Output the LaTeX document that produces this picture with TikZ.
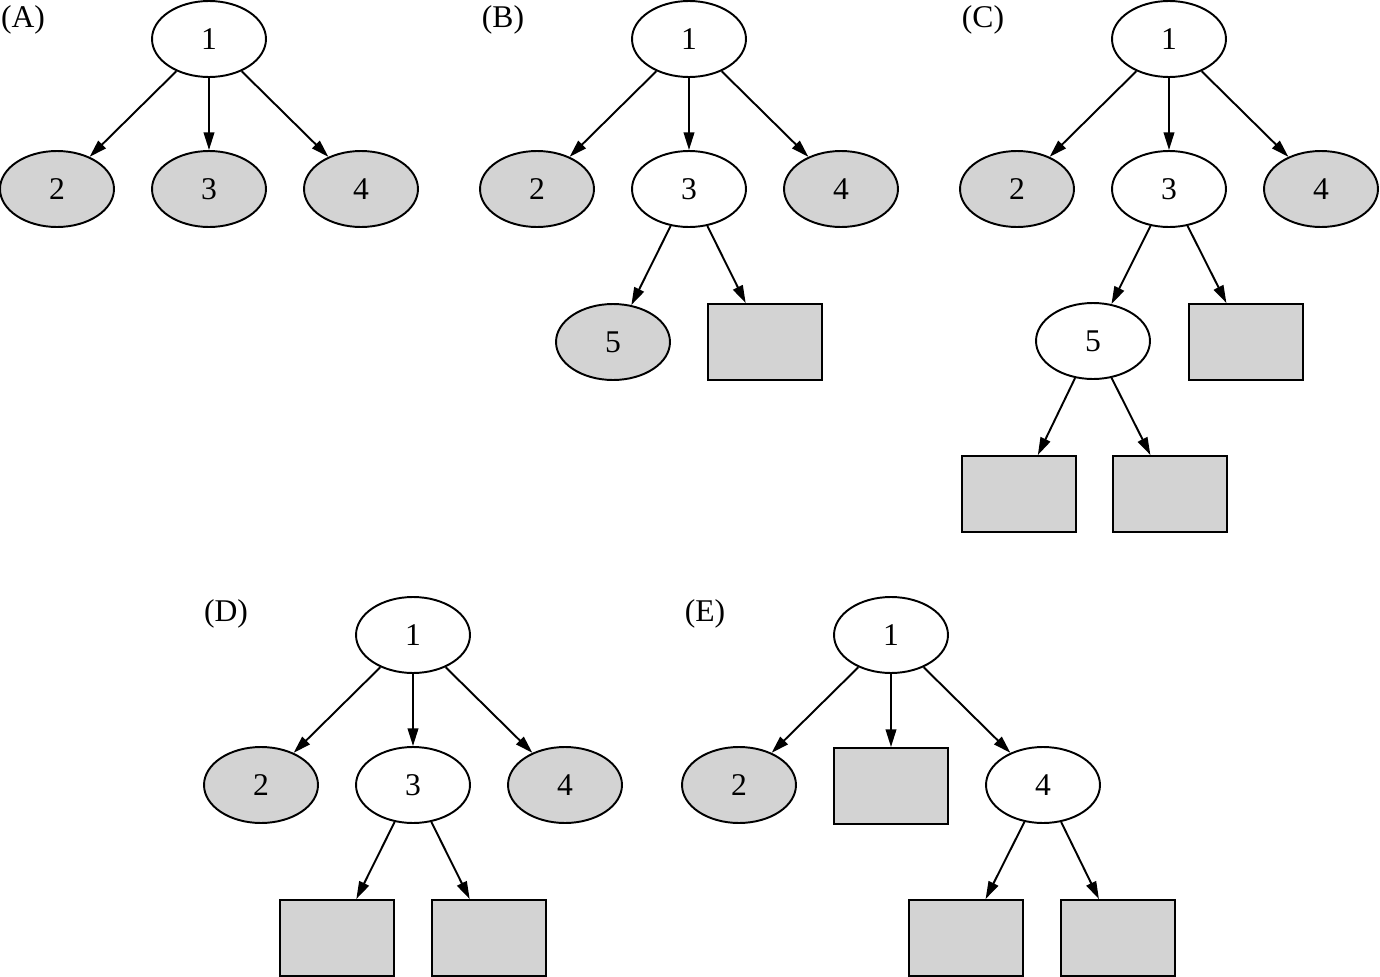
\documentclass[tikz,border=0pt]{standalone}
\usepackage{fontspec}
\setmainfont{Liberation Serif}
\usetikzlibrary{arrows.meta,shapes.geometric}
\definecolor{shade}{RGB}{211,211,211}
\tikzset{
  >={Triangle[length=10pt,width=6pt]},
  open/.style={ellipse,draw,line width=1.1pt,fill=white,minimum width=2.28cm,
    minimum height=1.52cm,inner sep=0pt,font=\fontsize{18}{21}\selectfont},
  closed/.style={open,fill=shade},
  term/.style={rectangle,draw,line width=1.1pt,fill=shade,minimum width=2.28cm,
    minimum height=1.52cm,inner sep=0pt},
  edge/.style={->,line width=1.1pt},
  tag/.style={font=\fontsize{18}{21}\selectfont}
}

\begin{document}
\begin{tikzpicture}[x=0.02cm,y=-0.02cm]
  \useasboundingbox (0,0) rectangle (1380,977);
  % panel A
  \node[tag] (tA) at (23,20) {(A)};
  \node[open] (a1) at (209,39) {1};
  \node[closed] (a2) at (57,189) {2};
  \node[closed] (a3) at (209,189) {3};
  \node[closed] (a4) at (361,189) {4};
  \foreach \c in {a2,a3,a4} \draw[edge] (a1) -- (\c);
  % panel B
  \node[tag] (tB) at (503,20) {(B)};
  \node[open] (b1) at (689,39) {1};
  \node[closed] (b2) at (537,189) {2};
  \node[open] (b3) at (689,189) {3};
  \node[closed] (b4) at (841,189) {4};
  \node[closed] (b5) at (613,342) {5};
  \node[term] (b6) at (765,342) {};
  \foreach \c in {b2,b3,b4} \draw[edge] (b1) -- (\c);
  \foreach \c in {b5,b6} \draw[edge] (b3) -- (\c);
  % panel C
  \node[tag] (tC) at (983,20) {(C)};
  \node[open] (c1) at (1169,39) {1};
  \node[closed] (c2) at (1017,189) {2};
  \node[open] (c3) at (1169,189) {3};
  \node[closed] (c4) at (1321,189) {4};
  \node[open] (c5) at (1093,341) {5};
  \node[term] (c6) at (1246,342) {};
  \node[term] (c7) at (1019,494) {};
  \node[term] (c8) at (1170,494) {};
  \foreach \c in {c2,c3,c4} \draw[edge] (c1) -- (\c);
  \foreach \c in {c5,c6} \draw[edge] (c3) -- (\c);
  \foreach \c in {c7,c8} \draw[edge] (c5) -- (\c);
  % panel D
  \node[tag] (tD) at (226,614) {(D)};
  \node[open] (d1) at (413,635) {1};
  \node[closed] (d2) at (261,785) {2};
  \node[open] (d3) at (413,785) {3};
  \node[closed] (d4) at (565,785) {4};
  \node[term] (d5) at (337,938) {};
  \node[term] (d6) at (489,938) {};
  \foreach \c in {d2,d3,d4} \draw[edge] (d1) -- (\c);
  \foreach \c in {d5,d6} \draw[edge] (d3) -- (\c);
  % panel E
  \node[tag] (tE) at (705,614) {(E)};
  \node[open] (e1) at (891,635) {1};
  \node[closed] (e2) at (739,785) {2};
  \node[term] (e3) at (891,786) {};
  \node[open] (e4) at (1043,785) {4};
  \node[term] (e5) at (966,938) {};
  \node[term] (e6) at (1118,938) {};
  \foreach \c in {e2,e3,e4} \draw[edge] (e1) -- (\c);
  \foreach \c in {e5,e6} \draw[edge] (e4) -- (\c);
\end{tikzpicture}
\end{document}
